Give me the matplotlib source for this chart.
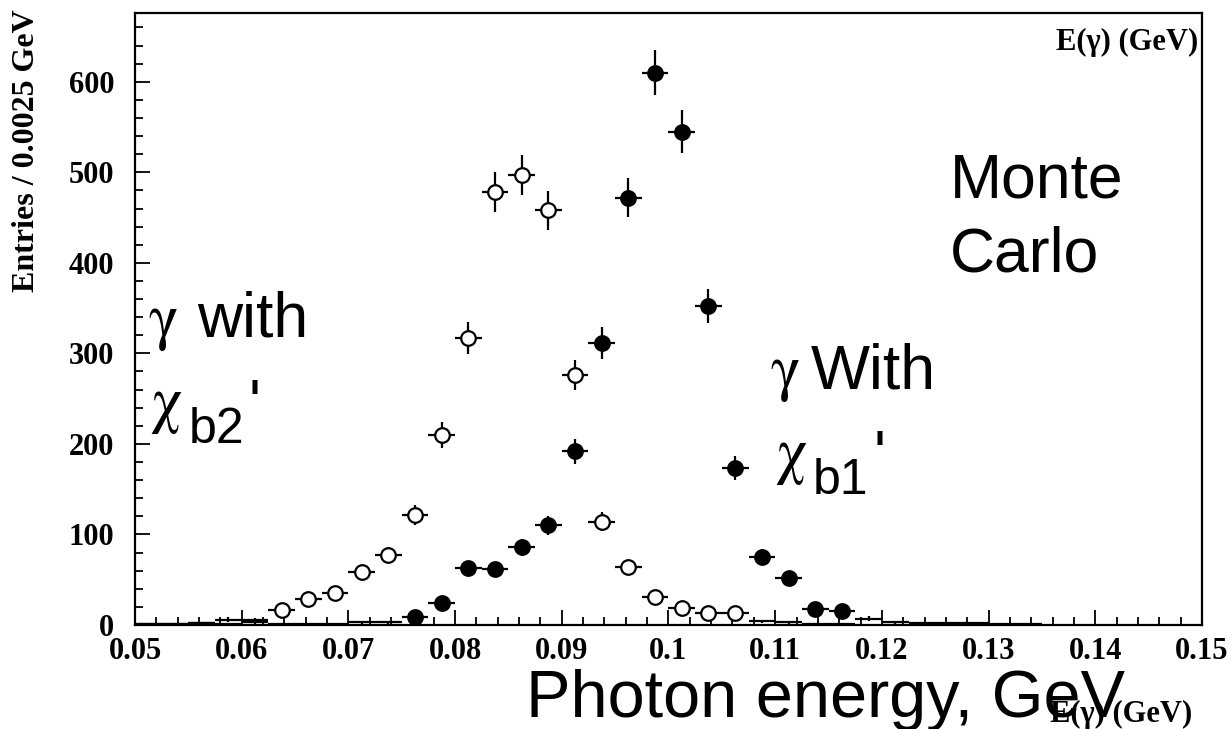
import numpy as np
import matplotlib.pyplot as plt
from matplotlib.ticker import MultipleLocator, FuncFormatter

plt.rcParams['font.family'] = 'Liberation Serif'
plt.rcParams['mathtext.fontset'] = 'stix'

# histogram: 40 bins of 0.0025 GeV from 0.05 to 0.15
bin_lo = 0.05
bin_w = 0.0025
# photons from chi_b2' (open circles)
n_chib2 = [1, 1, 2, 1, 5, 17, 29, 35, 58, 77,
           122, 210, 317, 478, 497, 458, 276, 114, 64, 31,
           19, 13, 13, 4, 3, 1, 1, 0, 0, 0,
           0, 0, 0, 0, 0, 0, 0, 0, 0, 0]
# photons from chi_b1' (filled circles)
n_chib1 = [1, 1, 2, 6, 3, 1, 1, 1, 3, 3,
           9, 24, 63, 62, 86, 110, 192, 311, 472, 610,
           545, 352, 173, 75, 52, 18, 15, 7, 3, 2,
           2, 2, 1, 1, 0, 0, 0, 0, 0, 0]

x = bin_lo + bin_w * (np.arange(len(n_chib2)) + 0.5)

fig = plt.figure(figsize=(12.32, 7.29), dpi=100)
ax = fig.add_axes([0.1096, 0.1427, 0.8660, 0.8395])


def draw_hist(counts, face):
    counts = np.array(counts, dtype=float)
    nz = counts > 0
    ax.errorbar(x[nz], counts[nz], yerr=np.sqrt(counts[nz]), xerr=bin_w / 2,
                fmt='none', ecolor='black', elinewidth=1.6, capsize=0)
    # markers that would cross the frame are not drawn (as in ROOT)
    big = counts >= 8
    ax.plot(x[big], counts[big], 'o', ms=10.5, mfc=face, mec='black', mew=1.6)


draw_hist(n_chib2, 'white')
draw_hist(n_chib1, 'black')

ax.set_xlim(0.05, 0.15)
ax.set_ylim(0, 676)
ax.xaxis.set_major_locator(MultipleLocator(0.01))
ax.xaxis.set_minor_locator(MultipleLocator(0.002))
ax.yaxis.set_major_locator(MultipleLocator(100))
ax.yaxis.set_minor_locator(MultipleLocator(20))
ax.xaxis.set_major_formatter(FuncFormatter(lambda v, p: '%g' % round(v, 4)))
ax.yaxis.set_major_formatter(FuncFormatter(lambda v, p: '%g' % v))
ax.tick_params(which='both', direction='in', top=False, right=False, labelsize=22)
ax.tick_params(which='major', length=11, width=1.3)
ax.tick_params(which='minor', length=5.5, width=1.3)
ax.tick_params(axis='x', which='major', pad=9)
ax.tick_params(axis='y', which='major', pad=15)
for lbl in ax.get_xticklabels() + ax.get_yticklabels():
    lbl.set_fontweight('bold')
for s in ax.spines.values():
    s.set_linewidth(1.6)

ax.set_ylabel('Entries / 0.0025 GeV', fontsize=23, weight='bold', loc='top')
ax.yaxis.set_label_coords(-0.088, 1.006)

ax.set_xlabel('Photon energy, GeV', fontsize=48, family='Liberation Sans')
ax.xaxis.label.set_va('baseline')
ax.xaxis.set_label_coords(0.6476, -0.150)

ax.text(0.9963, 0.9395, 'E(γ) (GeV)', transform=ax.transAxes, ha='right', va='baseline',
        fontsize=22, weight='bold')
fig.text(1192 / 1232, 1 - 722 / 729, 'E(γ) (GeV)', ha='right', va='baseline',
         fontsize=22, weight='bold')

# annotations
big_txt = dict(transform=ax.transAxes, va='baseline', family='Liberation Sans')
greek = dict(transform=ax.transAxes, va='baseline', fontsize=45)

ax.text(0.764, 0.699, 'Monte', fontsize=45, **big_txt)
ax.text(0.764, 0.577, 'Carlo', fontsize=45, **big_txt)

ax.text(0.012, 0.471, r'$\mathrm{\gamma}$', **greek)
ax.text(0.058, 0.471, 'with', fontsize=45, **big_txt)
ax.text(0.014, 0.335, r'$\mathrm{\chi}$', **greek)
ax.text(0.050, 0.297, 'b2', fontsize=36, **big_txt)
ax.text(0.106, 0.330, "'", fontsize=45, **big_txt)

ax.text(0.595, 0.387, r'$\mathrm{\gamma}$', **greek)
ax.text(0.633, 0.387, 'With', fontsize=45, **big_txt)
ax.text(0.600, 0.252, r'$\mathrm{\chi}$', **greek)
ax.text(0.635, 0.214, 'b1', fontsize=36, **big_txt)
ax.text(0.692, 0.247, "'", fontsize=45, **big_txt)

plt.savefig('out.png', dpi=100)
